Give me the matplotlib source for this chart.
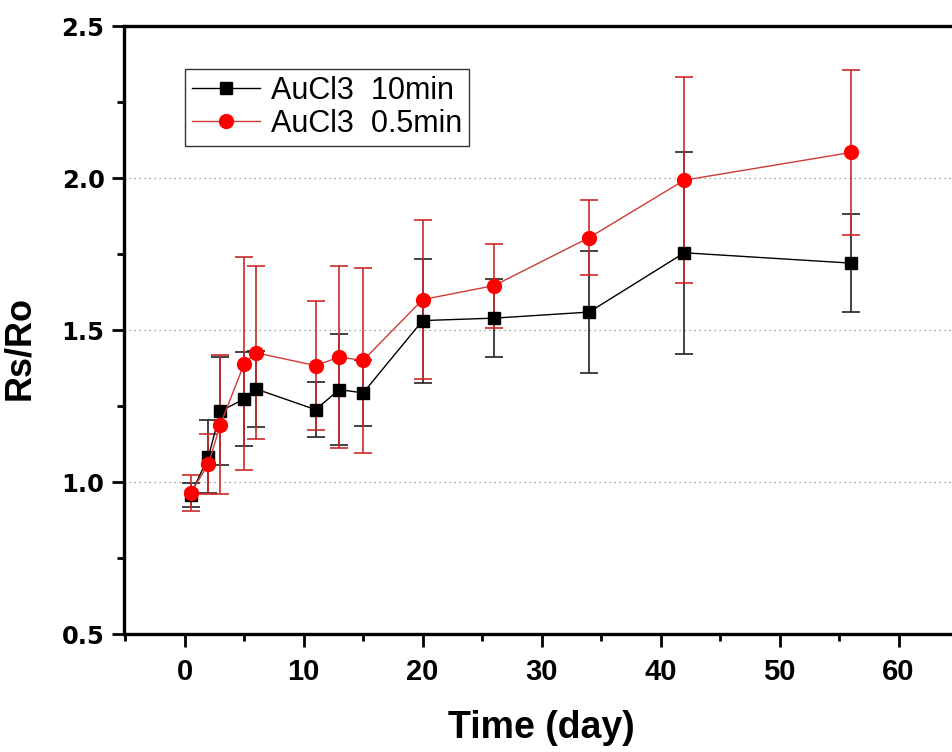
import numpy as np
import matplotlib
matplotlib.use("Agg")
import matplotlib.pyplot as plt
from matplotlib.ticker import MultipleLocator


# data
days = [0.5, 2, 3, 5, 6, 11, 13, 15, 20, 26, 34, 42, 56]

rs_10min = [0.958, 1.083, 1.233, 1.273, 1.306, 1.238, 1.304, 1.293, 1.531, 1.539, 1.559, 1.754, 1.720]
err_10min = [0.040, 0.120, 0.178, 0.155, 0.125, 0.090, 0.182, 0.108, 0.204, 0.128, 0.202, 0.333, 0.162]

rs_05min = [0.964, 1.059, 1.189, 1.389, 1.425, 1.383, 1.411, 1.400, 1.600, 1.646, 1.804, 1.993, 2.084]
err_05min = [0.058, 0.100, 0.230, 0.350, 0.284, 0.212, 0.298, 0.304, 0.262, 0.138, 0.124, 0.340, 0.270]

labels = ["AuCl3  10min", "AuCl3  0.5min"]


#Figure
fig = plt.figure(figsize=(9.52, 7.52), dpi=100)
ax = fig.add_axes([124 / 952, 1 - 634 / 752, 834 / 952, 608 / 752])

# error bars first, markers on top
ax.errorbar(days, rs_10min, yerr=err_10min, fmt="none", ecolor="#222222",
            elinewidth=1.2, capsize=6.5, capthick=1.2, zorder=2)
ax.errorbar(days, rs_05min, yerr=err_05min, fmt="none", ecolor="#cc2a2a",
            elinewidth=1.2, capsize=6.5, capthick=1.2, zorder=3)

ax.plot(days, rs_10min, color="black", lw=1.0, marker="s", ms=9,
        mfc="black", mec="black", label=labels[0], zorder=4)
ax.plot(days, rs_05min, color="#d03a3a", lw=1.0, marker="o", ms=10,
        mfc="#ff0000", mec="#ff0000", label=labels[1], zorder=5)

ax.set_xlim(-5.1, 65)
ax.set_ylim(0.5, 2.5)

ax.xaxis.set_major_locator(MultipleLocator(10))
ax.xaxis.set_minor_locator(MultipleLocator(5))
ax.yaxis.set_major_locator(MultipleLocator(0.5))
ax.yaxis.set_minor_locator(MultipleLocator(0.25))

for s in ax.spines.values():
    s.set_linewidth(2.4)

ax.tick_params(axis="both", which="major", direction="out", length=9, width=2)
ax.tick_params(axis="both", which="minor", direction="out", length=5, width=2)
ax.tick_params(axis="x", which="major", pad=8)
ax.tick_params(axis="y", which="major", pad=5)

for t in ax.get_xticklabels():
    t.set_fontfamily("Liberation Sans")
    t.set_fontweight("bold")
    t.set_fontsize(21)
ax.set_yticks([0.5, 1.0, 1.5, 2.0, 2.5])
ax.set_yticklabels(["0.5", "1.0", "1.5", "2.0", "2.5"], fontfamily="DejaVu Sans",
                   fontweight="bold", fontsize=17.5)

# dotted horizontal grid at the inner major ticks
for yv in [1.0, 1.5, 2.0]:
    ax.axhline(yv, color="#8a8a8a", lw=0.9, ls=(0, (1, 3)), zorder=1)

ax.set_xlabel("Time (day)", fontfamily="Liberation Sans", fontweight="bold", fontsize=27)
ax.set_ylabel("Rs/Ro", fontfamily="Liberation Sans", fontweight="bold", fontsize=26)
ax.xaxis.set_label_coords(0.5006, -0.125)
ax.yaxis.set_label_coords(-0.104, 0.47)

leg = ax.legend(loc="upper left", bbox_to_anchor=(185 / 952, 1 - 69 / 752),
                bbox_transform=fig.transFigure, prop={"family": "Liberation Sans", "size": 22},
                frameon=True, fancybox=False, edgecolor="black", handlelength=2.25,
                handletextpad=0.33, labelspacing=0.1, borderpad=0.22, borderaxespad=0)
leg.get_frame().set_linewidth(1.0)

fig.savefig("out.png", dpi=100)
